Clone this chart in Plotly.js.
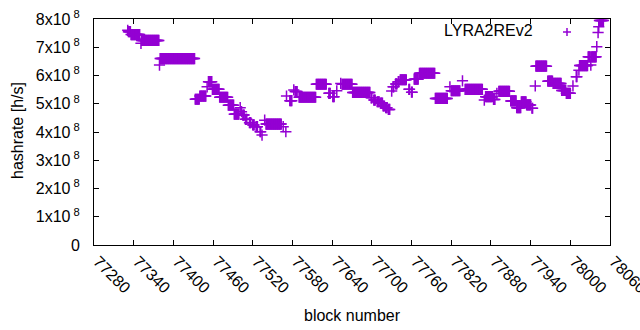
<!DOCTYPE html>
<html>
<head>
<meta charset="utf-8">
<script src="https://cdn.plot.ly/plotly-3.0.1.min.js"></script>
<style>html,body{margin:0;padding:0;background:#fff;}#chart{width:640px;height:330px;}</style>
</head>
<body>
<div id="chart"></div>
<script>
// Runs of blocks with a constant hashrate (in units of 1e8 h/s)
const runStart = [77331,77332,77336,77351,77352,77379,77380,77433,77440,77451,77453,77459,77470,77483,77492,77501,77503,77505,77509,77515,77520,77525,77531,77534,77538,77540,77566,77570,77571,77576,77582,77584,77590,77616,77635,77641,77647,77653,77655,77671,77699,77703,77708,77713,77717,77721,77725,77730,77732,77736,77740,77743,77756,77760,77764,77772,77796,77818,77820,77837,77841,77870,77872,77884,77889,77892,77910,77919,77926,77934,77942,77947,77948,77966,77974,77987,77994,78004,78009,78013,78014,78027,78031,78032,78040,78042,78043,78044];
const runEnd   = [77331,77335,77349,77351,77378,77379,77432,77439,77449,77451,77458,77469,77482,77491,77499,77501,77503,77507,77511,77517,77522,77527,77532,77534,77538,77563,77566,77570,77571,77579,77582,77587,77615,77631,77637,77643,77647,77653,77670,77697,77700,77705,77711,77716,77719,77723,77727,77730,77733,77738,77741,77752,77757,77761,77770,77795,77814,77818,77833,77837,77867,77870,77882,77886,77889,77908,77918,77925,77933,77940,77943,77947,77964,77973,77986,77993,78000,78004,78010,78013,78026,78030,78031,78039,78040,78042,78043,78050];
const runValueE8 = [7.60,7.55,7.45,7.14,7.24,6.37,6.60,5.16,5.27,5.60,5.78,5.51,5.23,4.95,4.63,4.86,4.72,4.60,4.45,4.33,4.25,4.19,4.01,3.89,4.42,4.28,4.19,4.01,5.27,5.11,5.49,5.43,5.23,5.69,5.37,5.25,5.46,5.72,5.69,5.40,5.21,5.13,5.07,5.02,4.92,4.86,4.80,5.45,5.60,5.70,5.78,5.85,5.51,5.41,5.87,6.08,5.19,5.60,5.46,5.81,5.51,5.13,5.25,5.15,5.37,5.44,5.10,4.86,5.07,4.96,4.84,5.63,6.33,5.80,5.72,5.47,5.37,5.63,5.96,6.19,6.35,6.66,6.37,6.66,7.02,7.52,7.73,7.95];

const seriesName = "LYRA2REv2";
const yTickVals = [0,1e8,2e8,3e8,4e8,5e8,6e8,7e8,8e8];
const yTickText = ["0","1x10<sup> 8</sup>","2x10<sup> 8</sup>","3x10<sup> 8</sup>","4x10<sup> 8</sup>","5x10<sup> 8</sup>","6x10<sup> 8</sup>","7x10<sup> 8</sup>","8x10<sup> 8</sup>"];
const xLabel = "block number";
const yLabel = "hashrate [h/s]";

const blocks = [], hashrate = [];
for (let i = 0; i < runStart.length; i++) {
  for (let b = runStart[i]; b <= runEnd[i]; b++) {
    blocks.push(b);
    hashrate.push(runValueE8[i] * 1e8);
  }
}

const purple = "#9400D3";
const font = {family: "Liberation Sans, Arial, sans-serif", size: 16, color: "#000"};

const trace = {
  x: blocks, y: hashrate, type: "scatter", mode: "markers", name: seriesName,
  marker: {symbol: "cross-thin", size: 8, color: purple, line: {color: purple, width: 1.5}},
  showlegend: false, hoverinfo: "skip"
};

const L = 94, R = 610, T = 19, B = 245;
const pw = R - L, ph = B - T;
const lx = 567, ly = 32, hs = 4;
const px = v => (v - L) / pw, py = v => (B - v) / ph;

const layout = {
  width: 640, height: 330,
  margin: {l: L, r: 640 - R, t: T, b: 330 - B},
  paper_bgcolor: "#fff", plot_bgcolor: "#fff",
  font: font,
  xaxis: {
    range: [77280, 78060], tick0: 77280, dtick: 60, tickmode: "linear", tickformat: "d",
    ticks: "inside", ticklen: 5, tickcolor: "#000", tickwidth: 1,
    showline: true, linecolor: "#000", linewidth: 1, mirror: "ticks",
    showgrid: false, zeroline: false, tickangle: 45, ticklabelstandoff: 0, ticklabelshift: 4,
    ticklabeloverflow: "allow", tickfont: font, automargin: false
  },
  yaxis: {
    range: [0, 8e8], tickvals: yTickVals, ticktext: yTickText, tickmode: "array",
    ticks: "inside", ticklen: 5, tickcolor: "#000", tickwidth: 1,
    showline: true, linecolor: "#000", linewidth: 1, mirror: "ticks",
    showgrid: false, zeroline: false, ticklabelstandoff: 10,
    tickfont: font, automargin: false
  },
  annotations: [
    {text: xLabel, xref: "paper", yref: "paper", x: 0.5, y: py(315), showarrow: false, font: font, xanchor: "center", yanchor: "middle"},
    {text: yLabel, xref: "paper", yref: "paper", x: px(17), y: py(131), showarrow: false, font: font, textangle: -90, xanchor: "center", yanchor: "middle"},
    {text: seriesName, xref: "paper", yref: "paper", x: px(535), y: py(31), showarrow: false, font: font, xanchor: "right", yanchor: "middle"}
  ],
  shapes: [
    {type: "path", xref: "paper", yref: "paper",
     path: `M ${px(lx-hs)},${py(ly)} L ${px(lx+hs)},${py(ly)} M ${px(lx)},${py(ly-hs)} L ${px(lx)},${py(ly+hs)}`,
     line: {color: purple, width: 1.5}}
  ]
};

Plotly.newPlot("chart", [trace], layout, {displayModeBar: false, staticPlot: true});
</script>
</body>
</html>
